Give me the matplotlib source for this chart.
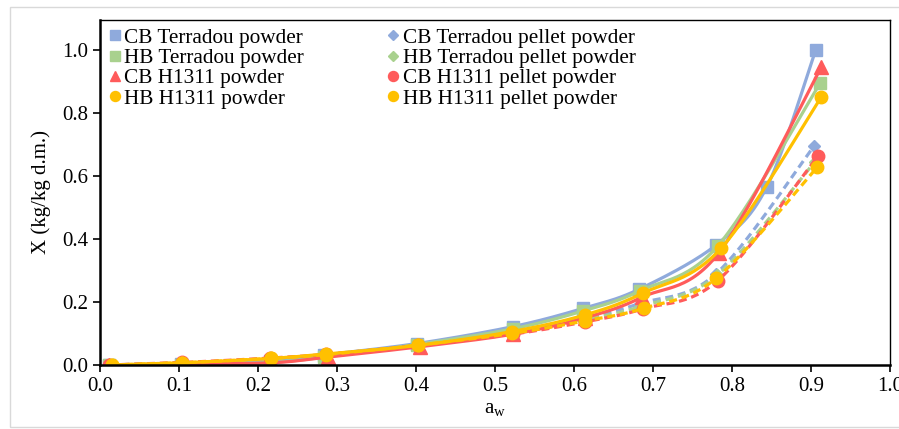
import numpy as np
import matplotlib
matplotlib.use("Agg")
import matplotlib.pyplot as plt
from matplotlib.lines import Line2D
from matplotlib.patches import Rectangle

plt.rcParams["font.family"] = ["Liberation Serif", "DejaVu Serif"]
plt.rcParams["mathtext.fontset"] = "custom"
plt.rcParams["mathtext.rm"] = "Liberation Serif"
plt.rcParams["mathtext.it"] = "Liberation Serif:italic"

# sorption isotherms: water activity vs moisture content
aw_cb_terr = [0.011, 0.102, 0.215, 0.284, 0.401, 0.523, 0.612, 0.682, 0.780, 0.844, 0.906]
x_cb_terr = [0.0, 0.004, 0.012, 0.032, 0.068, 0.122, 0.180, 0.240, 0.381, 0.565, 1.0]

aw_hb_terr = [0.011, 0.102, 0.215, 0.284, 0.401, 0.523, 0.612, 0.683, 0.782, 0.912]
x_hb_terr = [0.0, 0.001, 0.008, 0.025, 0.065, 0.115, 0.172, 0.235, 0.378, 0.896]

aw_cb_h1311 = [0.011, 0.102, 0.217, 0.288, 0.405, 0.523, 0.614, 0.686, 0.783, 0.913]
x_cb_h1311 = [0.0, 0.003, 0.007, 0.025, 0.058, 0.098, 0.150, 0.215, 0.355, 0.945]

aw_hb_h1311 = [0.015, 0.104, 0.217, 0.286, 0.402, 0.521, 0.614, 0.687, 0.786, 0.913]
x_hb_h1311 = [0.0, 0.007, 0.021, 0.035, 0.062, 0.106, 0.159, 0.228, 0.370, 0.850]

aw_cb_terr_p = [0.011, 0.102, 0.215, 0.284, 0.401, 0.520, 0.612, 0.683, 0.780, 0.904]
x_cb_terr_p = [0.0, 0.006, 0.020, 0.032, 0.063, 0.105, 0.148, 0.195, 0.290, 0.695]

aw_hb_terr_p = [0.011, 0.102, 0.215, 0.284, 0.401, 0.520, 0.612, 0.683, 0.781, 0.905]
x_hb_terr_p = [0.0, 0.006, 0.019, 0.032, 0.062, 0.102, 0.143, 0.185, 0.285, 0.645]

aw_cb_h1311_p = [0.011, 0.104, 0.215, 0.286, 0.402, 0.523, 0.614, 0.687, 0.782, 0.909]
x_cb_h1311_p = [0.0, 0.008, 0.022, 0.034, 0.062, 0.098, 0.137, 0.178, 0.268, 0.663]

aw_hb_h1311_p = [0.015, 0.104, 0.217, 0.286, 0.402, 0.521, 0.614, 0.688, 0.780, 0.908]
x_hb_h1311_p = [0.0, 0.007, 0.021, 0.033, 0.063, 0.100, 0.140, 0.180, 0.275, 0.628]

BLUE = "#8faadc"
GREEN = "#a9d18e"
RED = "#ff5b5b"
YELLOW = "#ffc000"


def smooth(xs, ys, n=30):
    """Catmull-Rom curve through the points (like a spreadsheet smoothed line)."""
    p = np.column_stack([xs, ys]).astype(float)
    p = np.vstack([p[0], p, p[-1]])
    t = np.linspace(0, 1, n)[:, None]
    out = []
    for i in range(1, len(p) - 2):
        p0, p1, p2, p3 = p[i - 1], p[i], p[i + 1], p[i + 2]
        c1 = p1 + (p2 - p0) / 6
        c2 = p2 - (p3 - p1) / 6
        seg = ((1 - t) ** 3) * p1 + 3 * ((1 - t) ** 2) * t * c1 + 3 * (1 - t) * t ** 2 * c2 + t ** 3 * p2
        out.append(seg if i == 1 else seg[1:])
    out = np.vstack(out)
    return out[:, 0], out[:, 1]


series = [
    ("CB Terradou powder", aw_cb_terr, x_cb_terr, BLUE, "s", 8.5, "-"),
    ("CB Terradou pellet powder", aw_cb_terr_p, x_cb_terr_p, BLUE, "D", 6.5, "--"),
    ("HB Terradou powder", aw_hb_terr, x_hb_terr, GREEN, "s", 8.5, "-"),
    ("HB Terradou pellet powder", aw_hb_terr_p, x_hb_terr_p, GREEN, "D", 6.5, "--"),
    ("CB H1311 powder", aw_cb_h1311, x_cb_h1311, RED, "^", 9.5, "-"),
    ("CB H1311 pellet powder", aw_cb_h1311_p, x_cb_h1311_p, RED, "o", 9, "--"),
    ("HB H1311 powder", aw_hb_h1311, x_hb_h1311, YELLOW, "o", 9, "-"),
    ("HB H1311 pellet powder", aw_hb_h1311_p, x_hb_h1311_p, YELLOW, "o", 9, "--"),
]

fig = plt.figure(figsize=(8.99, 4.29), dpi=100)
fig.patches.append(Rectangle((10 / 899, 2 / 429), 1.0, 1 - 9 / 429, transform=fig.transFigure,
                             fill=False, edgecolor="#d9d9d9", linewidth=1.0))
ax = fig.add_axes([100 / 899, 1 - 365 / 429, 790 / 899, 345 / 429])

handles = {}
for label, xs, ys, color, marker, ms, ls in series:
    sx, sy = smooth(xs, ys)
    if ls == "--":
        ax.plot(sx, sy, color=color, lw=2.3, dashes=(2.5, 1.5), solid_capstyle="butt")
    else:
        ax.plot(sx, sy, color=color, lw=2.3)
    ax.plot(xs, ys, linestyle="none", marker=marker, ms=ms, color=color, mec=color)
    handles[label] = Line2D([], [], linestyle="none", marker=marker, ms=ms * 0.8,
                            color=color, mec=color)

ax.set_xlim(0, 1.0)
ax.set_ylim(0, 1.095)
ax.set_xticks(np.arange(0, 1.01, 0.1))
ax.set_yticks(np.arange(0, 1.01, 0.2))
ax.xaxis.set_major_formatter(matplotlib.ticker.FormatStrFormatter("%.1f"))
ax.yaxis.set_major_formatter(matplotlib.ticker.FormatStrFormatter("%.1f"))
ax.tick_params(direction="out", length=5, width=1.2, labelsize=15, colors="black")
for side in ["left", "bottom"]:
    ax.spines[side].set_linewidth(1.8)
for side in ["top", "right"]:
    ax.spines[side].set_linewidth(1.0)

ax.set_xlabel(r"a$_\mathrm{w}$", fontsize=15, labelpad=2)
ax.set_ylabel("X (kg/kg d.m.)", fontsize=15, labelpad=8)

order = ["CB Terradou powder", "HB Terradou powder", "CB H1311 powder", "HB H1311 powder",
         "CB Terradou pellet powder", "HB Terradou pellet powder", "CB H1311 pellet powder",
         "HB H1311 pellet powder"]
ax.legend([handles[k] for k in order], order, ncol=2, loc="upper left",
          bbox_to_anchor=(-0.008, 1.02), frameon=False, fontsize=15.3,
          handlelength=0.6, handletextpad=0.15, labelspacing=0.02,
          columnspacing=3.9, borderaxespad=0.3)

fig.savefig("out.png", dpi=100)
